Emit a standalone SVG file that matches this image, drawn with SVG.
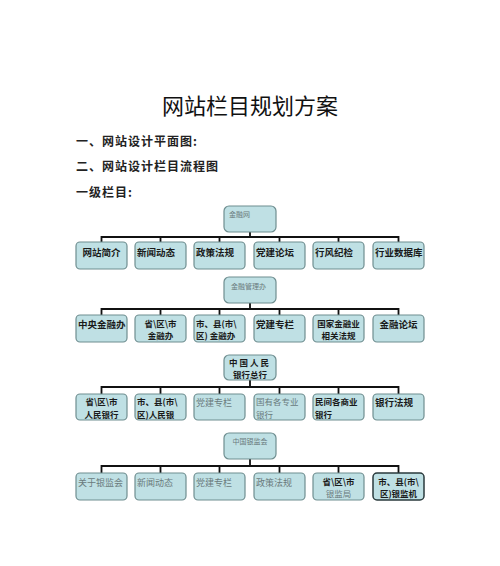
<svg xmlns="http://www.w3.org/2000/svg" width="500" height="566" viewBox="0 0 500 566">
<style>
text{font-family:"Noto Sans CJK SC","Noto Sans",sans-serif;}
.title{font-size:22px;fill:#111;text-anchor:middle;}
.h{font-size:12px;font-weight:bold;fill:#222;letter-spacing:1px;}
.box{fill:#bfe0e4;stroke:#6f8e90;stroke-width:1.2;}
.dark{stroke:#2a3a3c;stroke-width:1.5;}
.b{font-size:9.5px;font-weight:bold;fill:#1a1a1a;}
.b2{font-size:8.5px;font-weight:bold;fill:#1a1a1a;}
.g{font-size:9px;fill:#6a7a7c;}
.g2{font-size:8.5px;fill:#6a7a7c;}
.s{font-size:7px;fill:#6a7a7c;}
.c{text-anchor:middle;}
.conn{stroke:#111;stroke-width:1.8;fill:none;}
</style>
<rect width="500" height="566" fill="#fff"/>
<text class="title" x="250" y="114">网站栏目规划方案</text>
<text class="h" x="76" y="146">一、网站设计平面图:</text>
<text class="h" x="76" y="171">二、网站设计栏目流程图</text>
<text class="h" x="76" y="197">一级栏目:</text>

<g id="connectors">
<path class="conn" d="M250 232V237M101.5 242V237H398.5V242M160.5 237V242M219.5 237V242M279.5 237V242M338.5 237V242"/>
<path class="conn" d="M250 303V309M101.5 315V309H398.5V315M160.5 309V315M219.5 309V315M279.5 309V315M338.5 309V315"/>
<path class="conn" d="M250 380V387M101.5 394V387H398.5V394M160.5 387V394M219.5 387V394M279.5 387V394M338.5 387V394"/>
<path class="conn" d="M250 459V466M101.5 473V466H398.5V473M160.5 466V473M219.5 466V473M279.5 466V473M338.5 466V473"/>
</g>

<g id="root1"><rect class="box" x="224" y="206" width="52" height="26" rx="5"/><text class="s" x="229" y="217">金融网</text></g>
<g id="r1c1"><rect class="box" x="76" y="242" width="51" height="27" rx="4"/><text class="b c" x="101.5" y="256">网站简介</text></g>
<g id="r1c2"><rect class="box" x="135" y="242" width="51" height="27" rx="4"/><text class="b" x="137" y="256">新闻动态</text></g>
<g id="r1c3"><rect class="box" x="194" y="242" width="51" height="27" rx="4"/><text class="b" x="196" y="256">政策法规</text></g>
<g id="r1c4"><rect class="box" x="254" y="242" width="51" height="27" rx="4"/><text class="b" x="256" y="256">党建论坛</text></g>
<g id="r1c5"><rect class="box" x="313" y="242" width="51" height="27" rx="4"/><text class="b" x="315" y="256">行风纪检</text></g>
<g id="r1c6"><rect class="box" x="373" y="242" width="51" height="27" rx="4"/><text class="b" x="375" y="256">行业数据库</text></g>

<g id="root2"><rect class="box" x="224" y="277" width="52" height="26" rx="5"/><text class="s" x="231" y="289">金融管理办</text></g>
<g id="r2c1"><rect class="box" x="76" y="315" width="51" height="27" rx="4"/><text class="b" x="78" y="328">中央金融办</text></g>
<g id="r2c2"><rect class="box" x="135" y="315" width="51" height="27" rx="4"/><text class="b2 c" x="160.5" y="326.5">省\区\市</text><text class="b2 c" x="160.5" y="339">金融办</text></g>
<g id="r2c3"><rect class="box" x="194" y="315" width="51" height="27" rx="4"/><text class="b2" x="196" y="326.5">市、县(市\</text><text class="b2" x="196" y="339">区) 金融办</text></g>
<g id="r2c4"><rect class="box" x="254" y="315" width="51" height="27" rx="4"/><text class="b" x="256" y="328">党建专栏</text></g>
<g id="r2c5"><rect class="box" x="313" y="315" width="51" height="27" rx="4"/><text class="b2 c" x="338.5" y="326.5">国家金融业</text><text class="b2 c" x="338.5" y="339">相关法规</text></g>
<g id="r2c6"><rect class="box" x="373" y="315" width="51" height="27" rx="4"/><text class="b c" x="398.5" y="328">金融论坛</text></g>

<g id="root3"><rect class="box" x="224" y="355" width="52" height="25" rx="5"/><text class="b2 c" x="250" y="365.5" letter-spacing="2">中国人民</text><text class="b2 c" x="250" y="378">银行总行</text></g>
<g id="r3c1"><rect class="box" x="76" y="394" width="51" height="26" rx="4"/><text class="b2 c" x="101.5" y="405">省\区\市</text><text class="b2 c" x="101.5" y="417.5">人民银行</text></g>
<g id="r3c2"><rect class="box" x="135" y="394" width="51" height="26" rx="4"/><text class="b2" x="137" y="405">市、县(市\</text><text class="b2" x="137" y="417.5">区)人民银</text></g>
<g id="r3c3"><rect class="box" x="194" y="394" width="51" height="26" rx="4"/><text class="g" x="196" y="406">党建专栏</text></g>
<g id="r3c4"><rect class="box" x="254" y="394" width="51" height="26" rx="4"/><text class="g2" x="256" y="405">国有各专业</text><text class="g2" x="256" y="417.5">银行</text></g>
<g id="r3c5"><rect class="box" x="313" y="394" width="51" height="26" rx="4"/><text class="b2" x="315" y="405">民间各商业</text><text class="b2" x="315" y="417.5">银行</text></g>
<g id="r3c6"><rect class="box" x="373" y="394" width="51" height="26" rx="4"/><text class="b" x="375" y="406">银行法规</text></g>

<g id="root4"><rect class="box" x="224" y="433" width="52" height="26" rx="5"/><text class="s c" x="250" y="444">中国银监会</text></g>
<g id="r4c1"><rect class="box" x="76" y="473" width="51" height="27" rx="4"/><text class="g" x="78" y="486">关于银监会</text></g>
<g id="r4c2"><rect class="box" x="135" y="473" width="51" height="27" rx="4"/><text class="g" x="137" y="486">新闻动态</text></g>
<g id="r4c3"><rect class="box" x="194" y="473" width="51" height="27" rx="4"/><text class="g" x="196" y="486">党建专栏</text></g>
<g id="r4c4"><rect class="box" x="254" y="473" width="51" height="27" rx="4"/><text class="g" x="256" y="486">政策法规</text></g>
<g id="r4c5"><rect class="box" x="313" y="473" width="51" height="27" rx="4"/><text class="b2 c" x="338.5" y="484.5">省\区\市</text><text class="g2 c" x="338.5" y="497">银监局</text></g>
<g id="r4c6"><rect class="box dark" x="373" y="473" width="51" height="27" rx="4"/><text class="b2 c" x="398.5" y="484.5">市、县(市\</text><text class="b2 c" x="398.5" y="497">区)银监机</text></g>
</svg>
